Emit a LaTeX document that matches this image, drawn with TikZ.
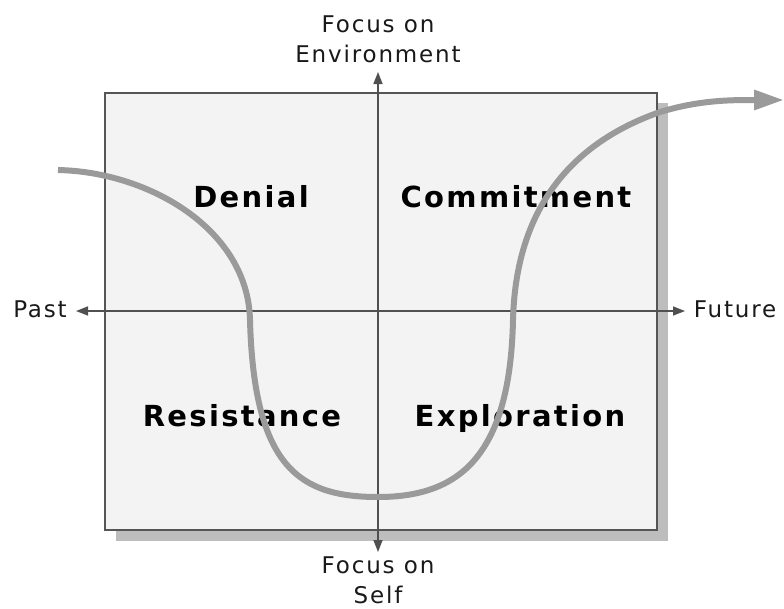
\documentclass[tikz,border=0pt]{standalone}
\usepackage{fontspec}
\usetikzlibrary{arrows.meta}
\newfontfamily\axfont[LetterSpace=8]{DejaVu Sans}
\newfontfamily\qfont[LetterSpace=8]{DejaVu Sans}
\definecolor{boxfill}{HTML}{F3F3F3}
\definecolor{boxline}{HTML}{555555}
\definecolor{shadowc}{HTML}{BDBDBD}
\definecolor{axisc}{HTML}{505050}
\definecolor{curvec}{HTML}{9A9A9A}
\tikzset{
  axlabel/.style={font=\axfont\fontsize{23}{30}\selectfont, align=center, text=black!90},
  qlabel/.style={font=\qfont\bfseries\fontsize{29}{32}\selectfont, text=black, anchor=base},
  axisline/.style={draw=axisc, line width=1.5pt, {Triangle[length=12pt,width=9pt]}-{Triangle[length=12pt,width=9pt]}},
  journey/.style={draw=curvec, line width=6pt, -{Triangle[length=30pt,width=19pt]}},
}
\begin{document}
\begin{tikzpicture}[x=1pt,y=-1pt]
\useasboundingbox (0,0) rectangle (784,608);
% shadow and box
\fill[shadowc] (116,103) rectangle (668,541);
\draw[draw=boxline, fill=boxfill, line width=2.5pt] (105,93) rectangle (657,530);
% axes
\coordinate (N) at (378,72);
\coordinate (S) at (378,552);
\coordinate (W) at (76,311);
\coordinate (E) at (685,311);
\draw[axisline] (S) -- (N);
\draw[axisline] (W) -- (E);
% axis labels
\node[axlabel] (env) at (378,39.6) {Focus on\\Environment};
\node[axlabel] (self) at (378,580) {Focus on\\Self};
\node[axlabel, anchor=base] (past) at (40,317) {Past};
\node[axlabel, anchor=base] (future) at (735,317) {Future};
% quadrant labels
\node[qlabel] (denial) at (251,207) {Denial};
\node[qlabel] (commit) at (516,207) {Commitment};
\node[qlabel] (resist) at (242,426) {Resistance};
\node[qlabel] (explore) at (520,426) {Exploration};
% change curve
\coordinate (c0) at (58,170);
\coordinate (c1) at (250,320);
\coordinate (c2) at (378,497);
\coordinate (c3) at (513,320);
\coordinate (c4) at (660,112);
\coordinate (c5) at (784,100);
\draw[journey] (c0) .. controls (150,172) and (248,230) .. (c1)
  .. controls (254,468) and (300,497) .. (c2)
  .. controls (456,497) and (510,460) .. (c3)
  .. controls (516,200) and (580,140) .. (c4)
  .. controls (700,100) and (730,100) .. (c5);
\end{tikzpicture}
\end{document}
